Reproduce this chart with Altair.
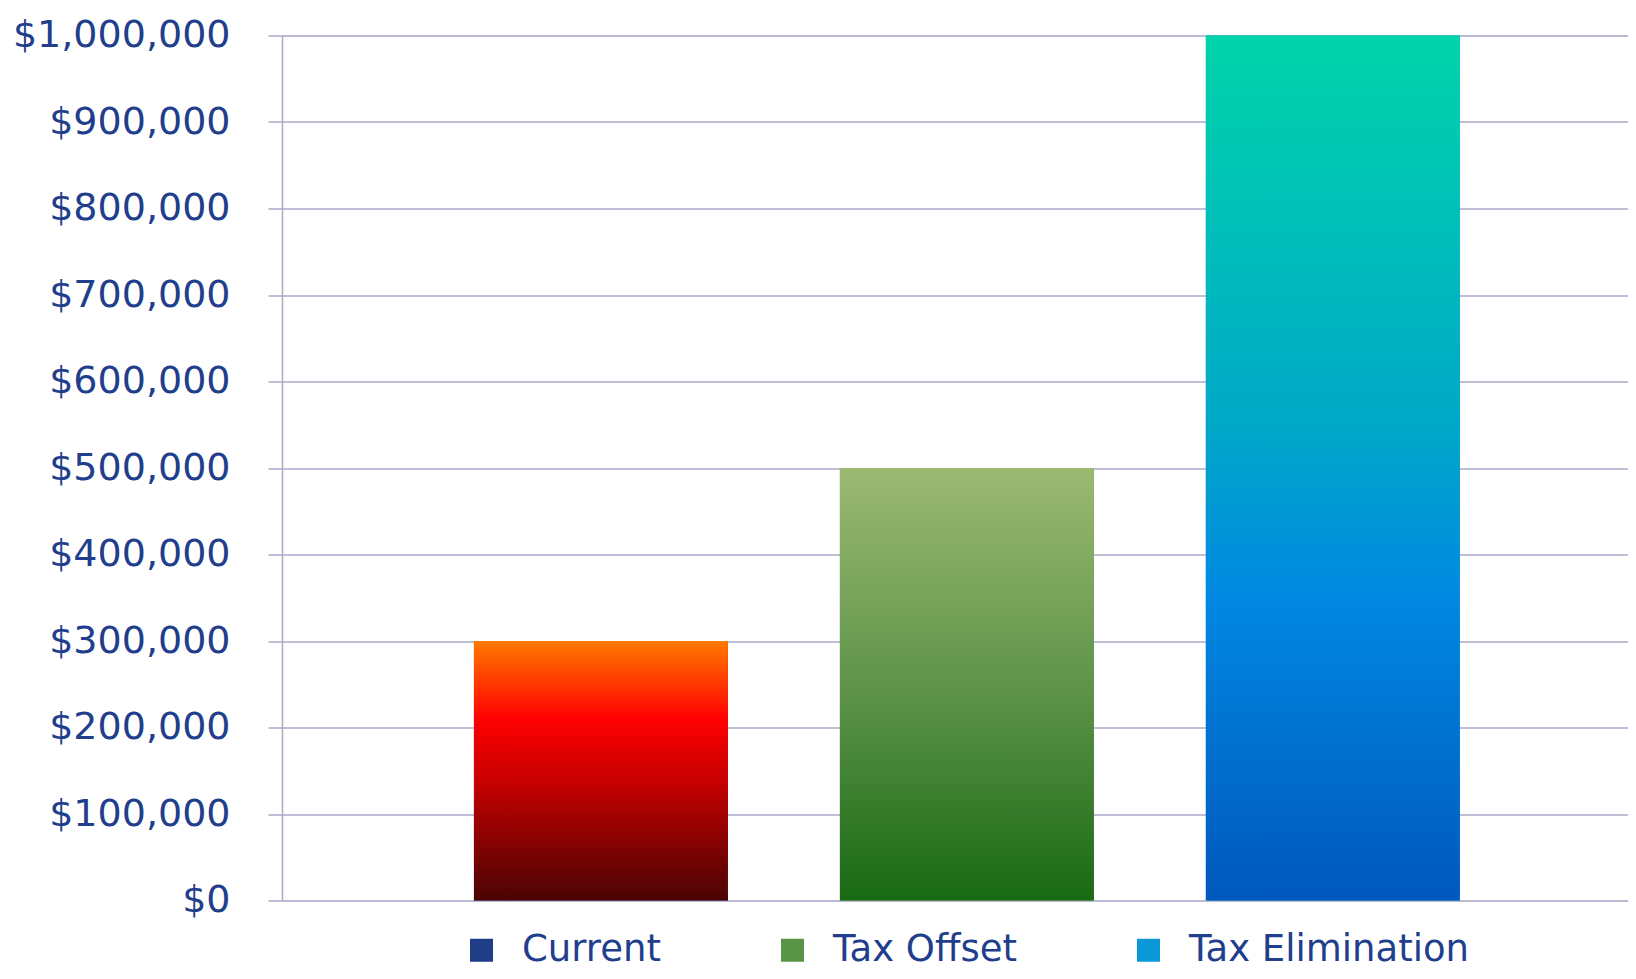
import altair as alt
import pandas as pd

categories = ["Current", "Tax Offset", "Tax Elimination"]
values = [300000, 500000, 1000000]
tick_values = [0, 100000, 200000, 300000, 400000, 500000, 600000, 700000, 800000, 900000, 1000000]
legend_colors = ["#1F3C88", "#5A9447", "#0A98D6"]

TEXT = "#213E8C"
GRID = "#A9A9C8"

df = pd.DataFrame({"category": categories, "value": values})

def grad(stops):
    return alt.Gradient(
        gradient="linear",
        stops=[alt.GradientStop(color=c, offset=o) for o, c in stops],
        x1=0, x2=0, y1=0, y2=1,
    )

red_stops = [(0, "#FF7A00"), (0.3, "#FF0000"), (0.55, "#C40000"), (1, "#4A0404")]
green_stops = [(0, "#9CB972"), (0.5, "#5F944A"), (1, "#196A14")]
blue_stops = [(0, "#00D4AA"), (0.45, "#00A8C8"), (0.65, "#0088E2"), (1, "#0058BC")]

W = 1346
x_enc = alt.X("category:N", sort=categories,
              scale=alt.Scale(paddingInner=0.306, paddingOuter=0.492, align=0.533),
              axis=None)
y_enc = alt.Y("value:Q", scale=alt.Scale(domain=[0, 1000000]),
              axis=alt.Axis(values=tick_values, format="$,.0f", title=None,
                            labelFont="DejaVu Sans", labelFontSize=38, labelColor=TEXT,
                            labelPadding=38, labelLimit=400, tickSize=14, tickColor=GRID,
                            tickWidth=1.5, domainColor=GRID, domainWidth=1.5,
                            grid=True, gridColor=GRID, gridWidth=1.5))

legend = alt.Legend(
    title=None, orient="none", legendX=181, legendY=896, direction="horizontal",
    symbolType="square", symbolSize=529, symbolStrokeWidth=0, symbolOpacity=1,
    labelFont="DejaVu Sans", labelFontSize=37, labelColor=TEXT, labelOffset=22,
    labelLimit=500, columnPadding=113,
)

base = alt.Chart(df).mark_bar().encode(
    x=x_enc, y=y_enc,
    color=alt.Color("category:N", sort=categories,
                    scale=alt.Scale(domain=categories, range=legend_colors),
                    legend=legend),
)

layers = [base]
for cat, stops in zip(categories, [red_stops, green_stops, blue_stops]):
    layers.append(
        alt.Chart(df).mark_bar(color=grad(stops)).encode(x=x_enc, y=alt.Y("value:Q"))
        .transform_filter(alt.datum.category == cat)
    )

chart = alt.layer(*layers).properties(
    width=W, height=865,
    autosize=alt.AutoSizeParams(type="none"),
    padding={"left": 274, "top": 27.5, "right": 0, "bottom": 71},
).configure_view(stroke=None).configure(font="DejaVu Sans", background="white")

chart.save("out.html", embed_options={"renderer": "svg", "actions": False})
